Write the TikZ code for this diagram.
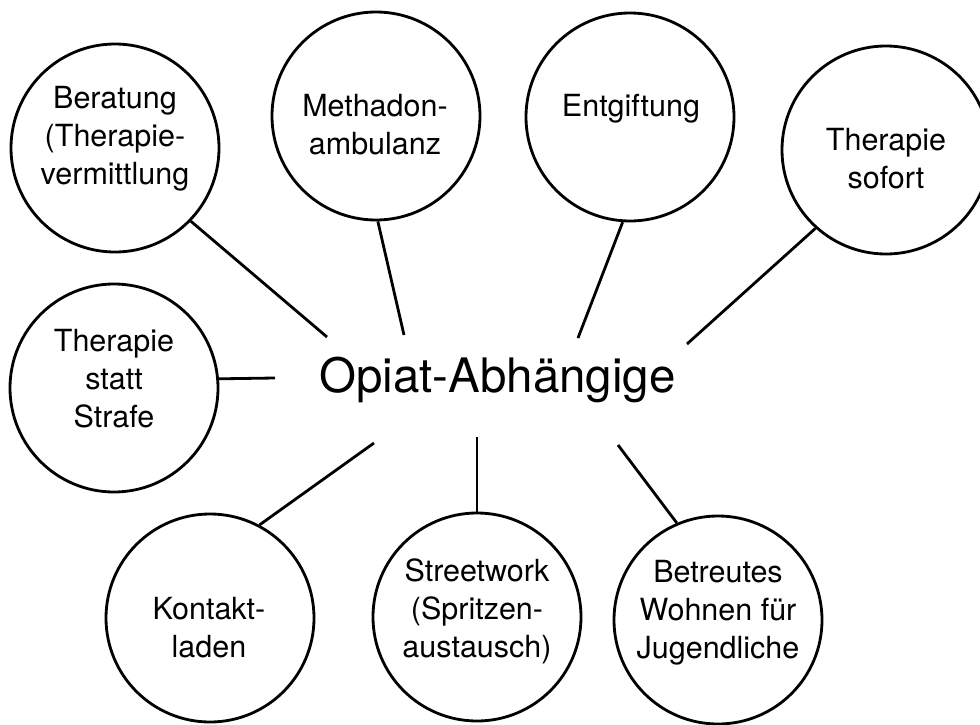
\documentclass[tikz,border=0pt]{standalone}
\usepackage{fontspec}
\setmainfont{TeX Gyre Heros}
\begin{document}
\begin{tikzpicture}[x=1pt,y=-1pt,
  bubble/.style={circle, draw, line width=2.8pt, minimum size=208pt, inner sep=0pt},
  lab/.style={anchor=base, inner sep=0pt, font=\fontsize{30.5}{38}\selectfont},
  hub/.style={anchor=base, inner sep=0pt, font=\fontsize{47.5}{57}\selectfont},
  spoke/.style={line width=2.8pt}]
\useasboundingbox (0,0) rectangle (980,725);
\clip (0,0) rectangle (980,725);

% centre label
\node[hub] (hub) at (497.5,392) {Opiat-Abhängige};

% circles
\node[bubble] (ber) at (115,148) {};
\node[bubble] (met) at (376,116) {};
\node[bubble] (ent) at (630,117) {};
\node[bubble] (sof) at (886,150) {};
\node[bubble] (tss) at (114,388) {};
\node[bubble] (kon) at (210,618) {};
\node[bubble] (str) at (477,617) {};
\node[bubble] (bet) at (718,620) {};

% circle texts (anchored at the baseline of the first line)
\node[lab] (ber-t) at (115,108) {\begin{tabular}[t]{@{}c@{}}Beratung\\(Therapie-\\vermittlung\end{tabular}};
\node[lab] (met-t) at (375,117) {\begin{tabular}[t]{@{}c@{}}Methadon-\\ambulanz\end{tabular}};
\node[lab] (ent-t) at (631,117) {Entgiftung};
\node[lab] (sof-t) at (886,150) {\begin{tabular}[t]{@{}c@{}}Therapie\\sofort\end{tabular}};
\node[lab] (tss-t) at (114,351) {\begin{tabular}[t]{@{}c@{}}Therapie\\statt\\Strafe\end{tabular}};
\node[lab] (kon-t) at (209,619) {\begin{tabular}[t]{@{}c@{}}Kontakt-\\laden\end{tabular}};
\node[lab] (str-t) at (477,581) {\begin{tabular}[t]{@{}c@{}}Streetwork\\(Spritzen-\\austausch)\end{tabular}};
\node[lab] (bet-t) at (718,582) {\begin{tabular}[t]{@{}c@{}}Betreutes\\Wohnen für\\Jugendliche\end{tabular}};

% free inner ends of the spokes, near the centre label
\coordinate (e1) at (327,337);
\coordinate (e2) at (404,335);
\coordinate (e3) at (578,338);
\coordinate (e4) at (687,344);
\coordinate (e5) at (275,378);
\coordinate (e6) at (374,443);
\coordinate (e7) at (477,437);
\coordinate (e8) at (618,445);

% spokes
\draw[spoke] (ber.-44)  -- (e1);
\draw[spoke] (met.-89)  -- (e2);
\draw[spoke] (ent.-94)  -- (e3);
\draw[spoke] (sof.-132) -- (e4);
\draw[spoke] (tss.5.5)  -- (e5);
\draw[spoke] (kon.62)   -- (e6);
\draw[spoke] (str.90)   -- (e7);
\draw[spoke] (bet.113)  -- (e8);
\end{tikzpicture}
\end{document}
